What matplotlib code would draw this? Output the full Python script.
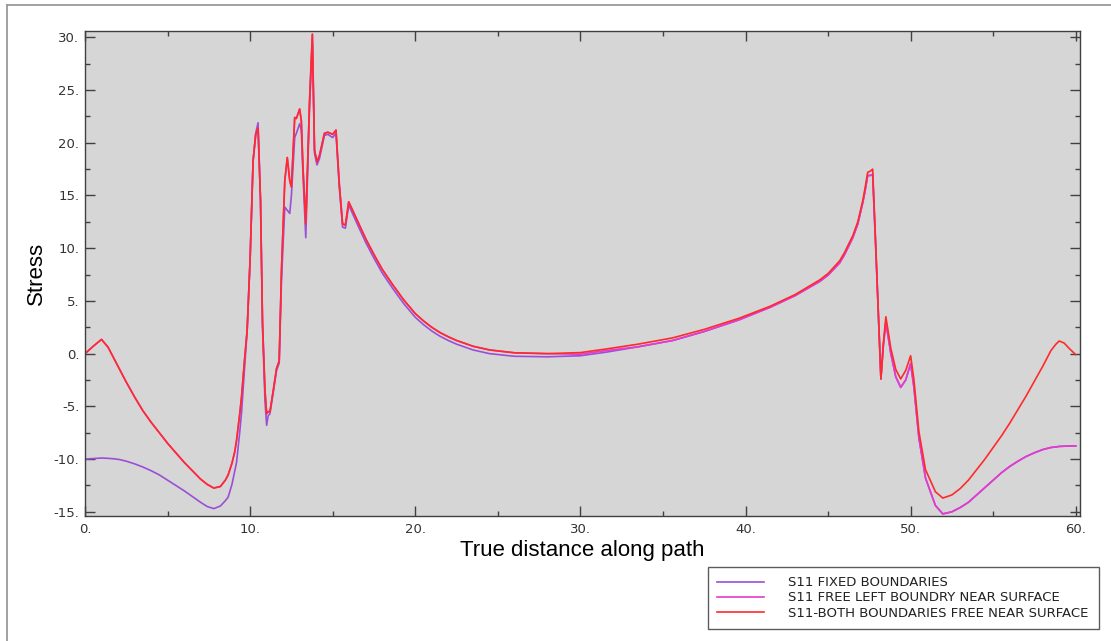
"""
S11 stress along path - three boundary cases
"""
import matplotlib
matplotlib.use("Agg")
import matplotlib.pyplot as plt
from matplotlib.lines import Line2D
from matplotlib.ticker import MultipleLocator, FuncFormatter

# distance along path
x_path = [0, 0.5, 1.0, 1.4, 1.8, 2.1, 2.5, 3.0, 3.5, 4.0, 4.5, 5.0, 5.5, 6.0, 6.5,
          7.0, 7.4, 7.8, 8.2, 8.5, 8.67, 8.9, 9.07, 9.18, 9.38, 9.48, 9.64, 9.82,
          10.0, 10.18, 10.34, 10.48, 10.63, 10.75, 10.9, 11.0, 11.09, 11.2, 11.4,
          11.6, 11.76, 11.9, 12.1, 12.25, 12.4, 12.5, 12.7, 12.8, 13.0, 13.1, 13.2,
          13.37, 13.6, 13.77, 13.9, 14.05, 14.2, 14.5, 14.7, 15.0, 15.2, 15.4, 15.6,
          15.77, 15.97, 16.5, 17.0, 17.5, 18.0, 18.65, 19.3, 20.0, 20.5, 21.0, 21.5,
          22.0, 22.5, 23.5, 24.5, 26.0, 28.0, 30.0, 31.6, 33.5, 35.6, 37.5, 39.6,
          41.5, 43.0, 44.5, 45.0, 45.7, 46.0, 46.5, 46.8, 47.1, 47.25, 47.4, 47.55,
          47.7, 47.9, 48.1, 48.2, 48.35, 48.5, 48.8, 49.1, 49.4, 49.7, 50.0, 50.2,
          50.5, 50.9, 51.5, 51.95, 52.5, 53.0, 53.5, 54.0, 54.5, 55.0, 55.5, 56.0,
          56.5, 57.0, 57.5, 58.0, 58.5, 58.8, 59.0, 59.3, 59.6, 60.0]

s11_fixed = [-10.0, -9.95, -9.9, -9.93, -9.98, -10.05, -10.2, -10.45, -10.75, -11.1,
             -11.5, -12.0, -12.5, -13.0, -13.55, -14.1, -14.5, -14.7, -14.45, -13.95,
             -13.6, -12.4, -11.1, -10.3, -7.3, -5.6, -1.9, 2.2,
             9.0, 18.3, 20.9, 21.9, 14.5, 2.5, -4.5, -6.8, -5.9, -5.7, -3.7,
             -1.6, -0.9, 7.0, 13.9, 13.6, 13.3, 15.0, 20.5, 20.9, 21.8, 21.2, 17.0,
             11.0, 23.5, 29.5, 19.0, 17.9, 18.5, 20.7, 20.8, 20.5, 20.9, 15.8, 12.0,
             11.9, 14.1, 12.25, 10.55, 9.05, 7.65, 6.15, 4.75, 3.45, 2.75, 2.15, 1.65,
             1.25, 0.9, 0.35, 0.0, -0.25, -0.3, -0.2, 0.15, 0.65, 1.25, 2.1, 3.2,
             4.4, 5.5, 6.85, 7.45, 8.6, 9.4, 11.0, 12.3, 14.3, 15.5, 16.9, 16.9,
             17.0, 9.5, 1.4, -2.4, 0.8, 3.0, 0.0, -2.2, -3.2, -2.5, -0.95, -3.2,
             -8.0, -11.8, -14.4, -15.2, -15.0, -14.6, -14.1, -13.4, -12.7, -12.0, -11.3, -10.7,
             -10.2, -9.75, -9.4, -9.1, -8.9, -8.85, -8.8, -8.78, -8.76, -8.75]

s11_free_left = [0.0, 0.7, 1.35, 0.6, -0.6, -1.5, -2.7, -4.1, -5.4, -6.5,
                 -7.5, -8.5, -9.4, -10.3, -11.1, -11.9, -12.4, -12.75, -12.6, -12.0,
                 -11.5, -10.4, -9.3, -8.2, -5.6, -4.1, -1.0, 2.2,
                 9.0, 18.3, 20.8, 21.4, 14.5, 3.0, -3.5, -5.7, -5.5, -5.5, -3.5,
                 -1.4, -0.7, 8.0, 16.4, 18.6, 16.4, 15.8, 22.4, 22.3, 23.2, 22.1, 17.7,
                 12.3, 24.0, 30.3, 19.3, 18.2, 18.8, 20.9, 21.0, 20.8, 21.2, 16.1, 12.3,
                 12.2, 14.4, 12.6, 10.9, 9.4, 8.0, 6.5, 5.1, 3.8, 3.1, 2.5, 2.0,
                 1.6, 1.25, 0.7, 0.35, 0.08, 0.0, -0.05, 0.3, 0.65, 1.25, 2.1, 3.2,
                 4.4, 5.5, 6.85, 7.45, 8.6, 9.4, 11.0, 12.3, 14.3, 15.5, 16.9, 16.9,
                 17.0, 9.5, 1.4, -2.4, 0.8, 3.0, 0.0, -2.2, -3.2, -2.5, -0.95, -3.2,
                 -8.0, -11.8, -14.4, -15.2, -15.0, -14.6, -14.1, -13.4, -12.7, -12.0, -11.3, -10.7,
                 -10.2, -9.75, -9.4, -9.1, -8.9, -8.85, -8.8, -8.78, -8.76, -8.75]

s11_both_free = [0.0, 0.7, 1.35, 0.6, -0.6, -1.5, -2.7, -4.1, -5.4, -6.5,
                 -7.5, -8.5, -9.4, -10.3, -11.1, -11.9, -12.4, -12.75, -12.6, -12.0,
                 -11.5, -10.4, -9.3, -8.2, -5.6, -4.1, -1.0, 2.2,
                 9.0, 18.3, 20.8, 21.4, 14.5, 3.0, -3.5, -5.7, -5.5, -5.5, -3.5,
                 -1.4, -0.7, 8.0, 16.4, 18.6, 16.4, 15.8, 22.4, 22.3, 23.2, 22.1, 17.7,
                 12.3, 24.0, 30.3, 19.3, 18.2, 18.8, 20.9, 21.0, 20.8, 21.2, 16.1, 12.3,
                 12.2, 14.4, 12.6, 10.9, 9.4, 8.0, 6.5, 5.1, 3.8, 3.1, 2.5, 2.0,
                 1.6, 1.25, 0.7, 0.35, 0.08, 0.0, 0.1, 0.45, 0.9, 1.5, 2.3, 3.35,
                 4.5, 5.6, 7.0, 7.6, 8.8, 9.6, 11.2, 12.5, 14.5, 15.8, 17.2, 17.3,
                 17.5, 9.8, 1.6, -2.4, 1.0, 3.5, 0.5, -1.5, -2.4, -1.6, -0.2, -2.5,
                 -7.4, -11.0, -13.1, -13.7, -13.4, -12.8, -12.0, -11.0, -10.0, -8.9, -7.8, -6.6,
                 -5.3, -4.0, -2.6, -1.2, 0.3, 0.9, 1.2, 1.0, 0.5, -0.1]

labels = ["S11 FIXED BOUNDARIES",
          "S11 FREE LEFT BOUNDRY NEAR SURFACE",
          "S11-BOTH BOUNDARIES FREE NEAR SURFACE"]
colors = ["#9a4fd6", "#e63ad0", "#ff2a2a"]

fig = plt.figure(figsize=(11.11, 6.41), dpi=100)
ax = fig.add_axes([0.0765, 0.195, 0.8955, 0.7566])
ax.set_facecolor("#d6d6d6")

for y, c, lab in zip([s11_fixed, s11_free_left, s11_both_free], colors, labels):
    ax.plot(x_path, y, color=c, lw=1.2, label=lab)

ax.set_xlim(0, 60.25)
ax.set_ylim(-15.4, 30.6)

ax.xaxis.set_major_locator(MultipleLocator(10))
ax.xaxis.set_minor_locator(MultipleLocator(5))
ax.yaxis.set_major_locator(MultipleLocator(5))
ax.yaxis.set_minor_locator(MultipleLocator(2.5))
fmt = FuncFormatter(lambda v, p: f"{int(round(v))}.")
ax.xaxis.set_major_formatter(fmt)
ax.yaxis.set_major_formatter(fmt)

ax.tick_params(which="both", direction="in", top=True, right=True,
               color="#404040", width=1.0, labelcolor="#333333", labelsize=9.5)
ax.tick_params(which="major", length=7)
ax.tick_params(which="minor", length=3.5)
ax.tick_params(axis="y", pad=4)
ax.tick_params(axis="x", pad=5)
for s in ax.spines.values():
    s.set_color("#404040")
    s.set_linewidth(1.0)

ax.set_xlabel("True distance along path", fontsize=16, family="Liberation Sans",
              labelpad=3)
ax.set_ylabel("Stress", fontsize=16, family="Liberation Sans", labelpad=5)

leg = fig.legend(loc="lower left", bbox_to_anchor=(0.637, 0.019, 0.352, 0.097),
                 mode="expand", fontsize=9.5, frameon=True, fancybox=False,
                 handlelength=3.55, handletextpad=1.8, labelspacing=0.16,
                 borderpad=0.7, borderaxespad=0)
leg.get_frame().set_edgecolor("#333333")
leg.get_frame().set_linewidth(1.0)
for t in leg.get_texts():
    t.set_color("#222222")

# outer gray frame
fig.add_artist(Line2D([7 / 1111, 1], [1 - 4.5 / 641, 1 - 4.5 / 641],
                      color="#9a9a9a", lw=1.3, transform=fig.transFigure))
fig.add_artist(Line2D([7 / 1111, 7 / 1111], [0, 1 - 4.5 / 641],
                      color="#9a9a9a", lw=1.3, transform=fig.transFigure))

fig.savefig("out.png", dpi=100)
